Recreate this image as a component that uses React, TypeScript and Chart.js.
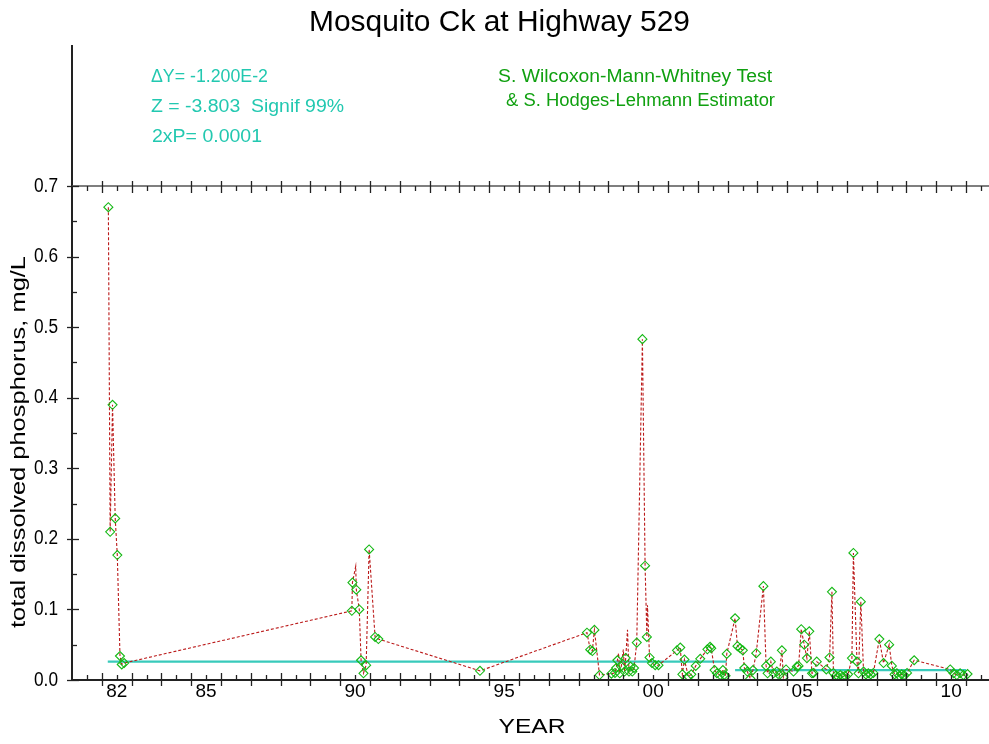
import React, { useEffect, useRef } from 'react';
import { Chart, registerables } from 'chart.js';

Chart.register(...registerables);

// ---- data (decimal year, mg/L) ----
const sampleYears = [
  1982.22, 1982.28, 1982.36, 1982.45, 1982.52, 1982.61, 1982.67, 1982.75,
  1990.39, 1990.41, 1990.54, 1990.64, 1990.70, 1990.78, 1990.87, 1990.97, 1991.17, 1991.28,
  1994.69,
  1998.28, 1998.39, 1998.46, 1998.53, 1998.70,
  1999.10, 1999.22, 1999.26, 1999.30, 1999.38, 1999.43, 1999.54, 1999.58, 1999.69, 1999.74, 1999.80, 1999.86, 1999.95,
  2000.14, 2000.23, 2000.29, 2000.38, 2000.46, 2000.57, 2000.68,
  2001.30, 2001.41, 2001.48, 2001.55, 2001.68, 2001.78, 2001.93,
  2002.08, 2002.32, 2002.41, 2002.45, 2002.56, 2002.64, 2002.75, 2002.84, 2002.88, 2002.93, 2002.97,
  2003.25, 2003.33, 2003.42, 2003.51, 2003.56, 2003.66, 2003.76, 2003.85, 2003.96,
  2004.20, 2004.29, 2004.34, 2004.45, 2004.54, 2004.65, 2004.73, 2004.82, 2004.87, 2004.96,
  2005.21, 2005.32, 2005.38, 2005.47, 2005.57, 2005.66, 2005.74, 2005.83, 2005.88, 2005.99,
  2006.31, 2006.42, 2006.50, 2006.55, 2006.62, 2006.70, 2006.78, 2006.86, 2006.94,
  2007.04, 2007.17, 2007.22, 2007.34, 2007.39, 2007.47, 2007.56, 2007.64, 2007.72, 2007.80, 2007.89,
  2008.09, 2008.23, 2008.42, 2008.51, 2008.60, 2008.68, 2008.76, 2008.84, 2008.92,
  2009.02, 2009.26,
  2010.47, 2010.58, 2010.69, 2010.80, 2010.91, 2011.05,
];
const sampleValues = [
  0.670, 0.210, 0.390, 0.229, 0.177, 0.034, 0.022, 0.024,
  0.098, 0.138, 0.128, 0.100, 0.028, 0.0095, 0.021, 0.185, 0.061, 0.058,
  0.013,
  0.067, 0.043, 0.041, 0.071, 0.007,
  0.009, 0.010, 0.017, 0.028, 0.0095, 0.019, 0.012, 0.031, 0.012, 0.019, 0.012, 0.017, 0.053,
  0.483, 0.162, 0.061, 0.032, 0.024, 0.021, 0.021,
  0.042, 0.046, 0.008, 0.029, 0.005, 0.008, 0.020,
  0.030, 0.0435, 0.047, 0.045, 0.014, 0.0095, 0.007, 0.014, 0.007, 0.006, 0.037,
  0.0875, 0.048, 0.045, 0.042, 0.017, 0.012, 0.002, 0.014, 0.038,
  0.133, 0.020, 0.0095, 0.026, 0.0095, 0.012, 0.007, 0.042, 0.004, 0.015,
  0.012, 0.019, 0.020, 0.072, 0.050, 0.031, 0.069, 0.0095, 0.010, 0.026,
  0.015, 0.032, 0.125, 0.010, 0.006, 0.005, 0.007, 0.005, 0.006,
  0.008, 0.031, 0.180, 0.026, 0.0095, 0.111, 0.012, 0.008, 0.0095, 0.008, 0.010,
  0.058, 0.024, 0.050, 0.020, 0.008, 0.0095, 0.006, 0.008, 0.007,
  0.010, 0.028,
  0.015, 0.0095, 0.007, 0.0095, 0.007, 0.0085,
];
// samples drawn in the connecting line only (no marker)
const unmarkedYears = [1990.52, 1999.34, 1999.50, 1999.64, 2000.31];
const unmarkedValues = [0.161, 0.038, 0.043, 0.071, 0.106];

// Hodges-Lehmann step trend
const trendPeriod1 = [1982.2, 2002.97];
const trendLevel1 = 0.026;
const trendPeriod2 = [2003.25, 2011.0];
const trendLevel2 = 0.014;

const xTickYears = [1982, 1985, 1990, 1995, 2000, 2005, 2010];
const xTickLabels = ['82', '85', '90', '95', '00', '05', '10'];
const yTickValues = [0, 0.1, 0.2, 0.3, 0.4, 0.5, 0.6, 0.7];
const yTickLabels = ['0.0', '0.1', '0.2', '0.3', '0.4', '0.5', '0.6', '0.7'];

const chartTitle = 'Mosquito Ck at Highway 529';
const statLines = ['\u0394Y= -1.200E-2', 'Z = -3.803  Signif 99%', '2xP= 0.0001'];
const testLines = ['S. Wilcoxon-Mann-Whitney Test', '& S. Hodges-Lehmann Estimator'];
const xTitle = 'YEAR';
const yTitle = 'total dissolved phosphorus, mg/L';

const X_MIN = 1981;
const X_MAX = 2011.77;
const FONT = '"Liberation Sans", Arial, sans-serif';

function fitText(ctx: CanvasRenderingContext2D, text: string, x: number, y: number, size: number,
  color: string, align: CanvasTextAlign, width?: number, rot = 0) {
  ctx.save();
  ctx.font = `${size}px ${FONT}`;
  ctx.fillStyle = color;
  ctx.textBaseline = 'middle';
  ctx.textAlign = align;
  const w = ctx.measureText(text).width;
  const sx = width ? width / w : 1;
  ctx.translate(x, y);
  if (rot) ctx.rotate(rot);
  ctx.scale(sx, 1);
  ctx.fillText(text, 0, 0);
  ctx.restore();
}

const framePlugin = {
  id: 'frame',
  afterDraw(chart: any) {
    const ctx: CanvasRenderingContext2D = chart.ctx;
    const { left, right, top, bottom } = chart.chartArea;
    const xs = chart.scales.x;
    const ys = chart.scales.y;
    ctx.save();
    ctx.strokeStyle = '#222';
    ctx.lineWidth = 2;
    ctx.beginPath();
    ctx.moveTo(left, 45);
    ctx.lineTo(left, bottom);
    ctx.lineTo(right, bottom);
    ctx.stroke();
    ctx.strokeStyle = '#555';
    ctx.lineWidth = 1.5;
    ctx.beginPath();
    ctx.moveTo(left, top);
    ctx.lineTo(right, top);
    ctx.stroke();
    ctx.strokeStyle = '#222';
    ctx.lineWidth = 1.3;
    for (let yr = Math.ceil(X_MIN * 2) / 2; yr <= X_MAX; yr += 0.5) {
      const px = Math.round(xs.getPixelForValue(yr)) + 0.5;
      const major = Math.abs(yr - Math.round(yr)) < 1e-6;
      if (px <= left + 1) continue;
      ctx.beginPath();
      if (major) {
        ctx.moveTo(px, bottom - 7); ctx.lineTo(px, bottom + 6);
        ctx.moveTo(px, top - 5); ctx.lineTo(px, top + 7);
      } else {
        ctx.moveTo(px, bottom - 5); ctx.lineTo(px, bottom);
        ctx.moveTo(px, top); ctx.lineTo(px, top + 5);
      }
      ctx.stroke();
    }
    for (let i = 0; i <= 14; i++) {
      const v = i * 0.05;
      const py = Math.round(ys.getPixelForValue(v)) + 0.5;
      ctx.beginPath();
      if (i % 2 === 0) { ctx.moveTo(left - 5, py); ctx.lineTo(left + 7, py); }
      else { ctx.moveTo(left, py); ctx.lineTo(left + 5, py); }
      ctx.stroke();
    }
    ctx.restore();

    // tick labels, positioned through the scales
    xTickYears.forEach((yr, i) => {
      fitText(ctx, xTickLabels[i], xs.getPixelForValue(yr + 0.5), 692, 19, '#000', 'center');
    });
    yTickValues.forEach((v, i) => {
      fitText(ctx, yTickLabels[i], 58, ys.getPixelForValue(v), 20, '#000', 'right', 24);
    });

    fitText(ctx, chartTitle, 499.5, 23, 30, '#000', 'center', 381);
    fitText(ctx, statLines[0], 151, 77, 18, '#22c8b0', 'left', 117);
    fitText(ctx, statLines[1], 151, 107, 18, '#22c8b0', 'left', 193);
    fitText(ctx, statLines[2], 152, 137, 18, '#22c8b0', 'left', 110);
    fitText(ctx, testLines[0], 498, 77, 18, '#10a010', 'left', 274);
    fitText(ctx, testLines[1], 506, 101, 18, '#10a010', 'left', 269);
    fitText(ctx, xTitle, 532, 727, 21, '#000', 'center', 67);
    fitText(ctx, yTitle, 19, 442, 20, '#000', 'center', 372, -Math.PI / 2);
  },
};

export default function App() {
  const ref = useRef<HTMLCanvasElement>(null);
  useEffect(() => {
    document.body.style.margin = '0';
    const canvas = ref.current;
    if (!canvas) return;

    const all = sampleYears.map((x, i) => ({ x, y: sampleValues[i] }))
      .concat(unmarkedYears.map((x, i) => ({ x, y: unmarkedValues[i] })))
      .sort((a, b) => a.x - b.x);
    const marked = sampleYears.map((x, i) => ({ x, y: sampleValues[i] }));
    const trend = [
      { x: trendPeriod1[0], y: trendLevel1 },
      { x: trendPeriod1[1], y: trendLevel1 },
      { x: (trendPeriod1[1] + trendPeriod2[0]) / 2, y: null },
      { x: trendPeriod2[0], y: trendLevel2 },
      { x: trendPeriod2[1], y: trendLevel2 },
    ];

    const chart = new Chart(canvas, {
      type: 'scatter',
      data: {
        datasets: [
          {
            data: marked,
            showLine: false,
            pointStyle: 'rectRot',
            pointRadius: 4.5,
            pointBorderColor: '#14b814',
            pointBackgroundColor: 'rgba(0,0,0,0)',
            pointBorderWidth: 1.1,
            order: 1,
          } as any,
          {
            data: all,
            showLine: true,
            borderColor: '#bb1a1a',
            borderWidth: 1.1,
            borderDash: [3, 2],
            pointRadius: 0,
            order: 2,
          } as any,
          {
            data: trend,
            showLine: true,
            spanGaps: false,
            borderColor: '#38cabb',
            borderWidth: 2.2,
            pointRadius: 0,
            order: 3,
          } as any,
        ],
      },
      options: {
        animation: false,
        responsive: false,
        devicePixelRatio: 1,
        layout: { autoPadding: false, padding: { top: 186, right: 0, left: 0, bottom: 0 } },
        plugins: { legend: { display: false }, tooltip: { enabled: false }, title: { display: false } },
        scales: {
          x: {
            type: 'linear',
            min: X_MIN,
            max: X_MAX,
            grid: { display: false },
            border: { display: false },
            ticks: { display: false },
            afterFit: (s: any) => { s.height = 64; },
          },
          y: {
            type: 'linear',
            min: 0,
            max: 0.7,
            grid: { display: false },
            border: { display: false },
            ticks: { display: false },
            afterFit: (s: any) => { s.width = 72; },
          },
        },
      } as any,
      plugins: [framePlugin],
    });
    return () => chart.destroy();
  }, []);

  return (
    <div style={{ width: 989, height: 744, background: '#fff' }}>
      <canvas ref={ref} width={989} height={744} style={{ display: 'block' }} />
    </div>
  );
}
